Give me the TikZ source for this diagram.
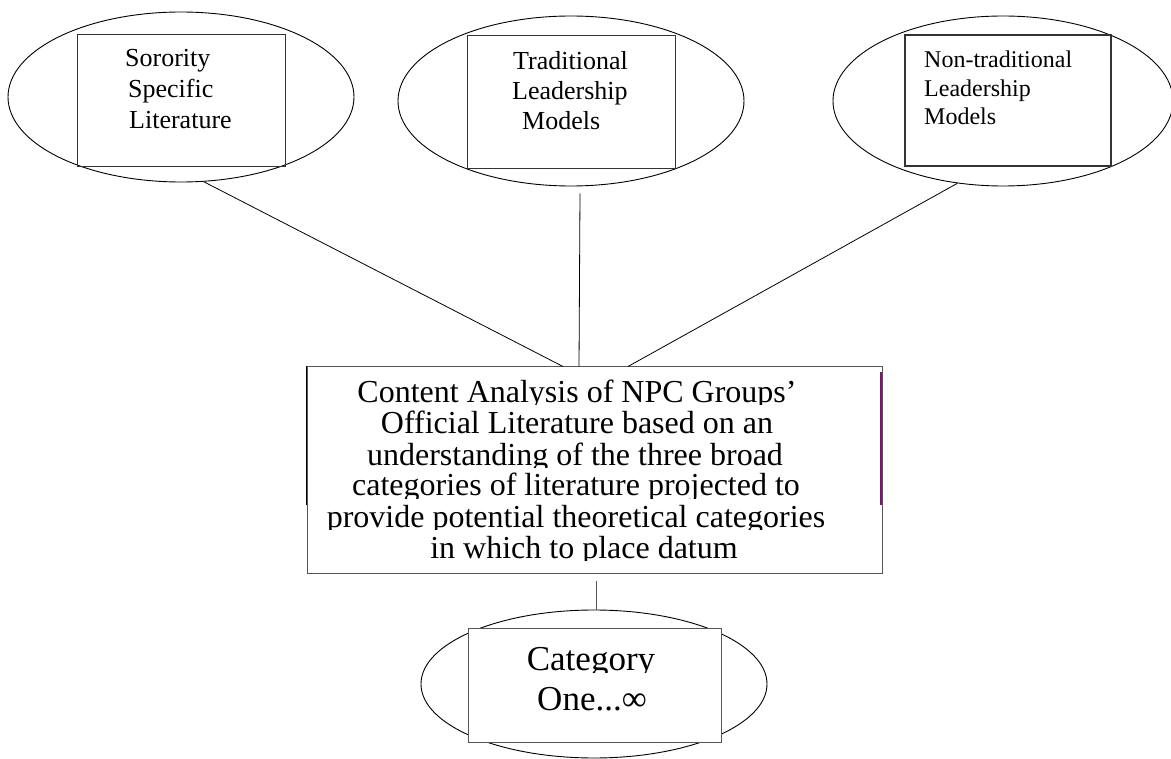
\documentclass[tikz,border=0pt]{standalone}
\usepackage{fontspec}
\setmainfont{Liberation Serif}
\usetikzlibrary{calc,shapes.geometric}
\definecolor{boxgray}{RGB}{85,85,85}
\definecolor{edgepurple}{RGB}{125,20,120}
\tikzset{
  oval/.style={draw=black, line width=0.9pt, ellipse, inner sep=0pt},
  srcbox/.style={draw=black!80, line width=1pt},
  uptext/.style={anchor=base west, inner sep=0pt, font=\fontsize{26}{30}\selectfont},
  rtext/.style={anchor=base west, inner sep=0pt, font=\fontsize{24}{28}\selectfont},
  maintext/.style={anchor=base, inner sep=0pt, font=\fontsize{32}{36}\selectfont},
  cattext/.style={anchor=base, inner sep=0pt, font=\fontsize{35}{40}\selectfont},
  link/.style={draw=black, line width=0.8pt},
}
\begin{document}
\begin{tikzpicture}[x=1pt,y=-1pt]
\useasboundingbox (0,0) rectangle (1171,759);
\fill[white] (0,0) rectangle (1171,759);

% top ellipses
\node[oval, minimum width=346pt, minimum height=170pt] (e1) at (181,97) {};
\node[oval, minimum width=346pt, minimum height=170pt] (e2) at (571,101) {};
\node[oval, minimum width=340pt, minimum height=170pt] (e3) at (1003,101) {};

% boxes inside ellipses
\draw[srcbox] (77,35) rectangle (285,167);
\draw[srcbox] (467,36) rectangle (675,169);
\draw[srcbox, line width=1.5pt] (905,35) rectangle (1111,166);

% texts
\node[uptext] (a1) at (125,67) {Sorority};
\node[uptext] (a2) at (128,98) {Specific};
\node[uptext] (a3) at (129,129) {Literature};
\node[uptext] (b1) at (513,70) {Traditional};
\node[uptext] (b2) at (512,100) {Leadership};
\node[uptext] (b3) at (522,130) {Models};
\node[rtext] (c1) at (924,68) {Non-traditional};
\node[rtext] (c2) at (924,97) {Leadership};
\node[rtext] (c3) at (924,125) {Models};

% main box
\node[draw=boxgray, line width=1pt, minimum width=575pt, minimum height=206pt, inner sep=0pt] (main) at (594.5,470) {};
\draw[black, line width=1pt] (main.north west) -- ($(main.north west)+(0,138)$);
\draw[edgepurple, line width=2pt] ($(main.north east)+(-2,6)$) -- ($(main.north east)+(-2,138)$);

\begin{scope}\clip (300,371) rectangle (890,405);
\node[maintext] (m1) at (577,403) {Content Analysis of NPC Groups’};\end{scope}
\begin{scope}\clip (300,400) rectangle (890,436);
\node[maintext] (m2) at (577,434) {Official Literature based on an};\end{scope}
\begin{scope}\clip (300,431) rectangle (890,467);
\node[maintext] (m3) at (575,465) {understanding of the three broad};\end{scope}
\begin{scope}\clip (300,462) rectangle (890,498);
\node[maintext] (m4) at (576,496) {categories of literature projected to};\end{scope}
\begin{scope}\clip (300,493) rectangle (890,529);
\node[maintext] (m5) at (576,527) {provide potential theoretical categories};\end{scope}
\begin{scope}\clip (300,524) rectangle (890,560);
\node[maintext] (m6) at (584,558) {in which to place datum};\end{scope}

% bottom ellipse and box
\node[oval, minimum width=346pt, minimum height=148pt] (e4) at (594,684) {};
\draw[draw=boxgray, fill=white, line width=1pt] (468,628) rectangle (721,742);
\begin{scope}\clip (470,630) rectangle (719,672);
\node[cattext] (k1) at (591,670) {Category};\end{scope}
\node[cattext] (k2) at (592,710) {One...∞};

% connectors
\draw[link] (e1.-75) -- ($(main.north)+(-31.5,0)$);
\draw[link] ($(e2.south)+(9,7)$) -- ($(main.north)+(-15.5,0)$);
\draw[link] (e3.-119) -- ($(main.north)+(33.5,0)$);
\draw[draw=boxgray, line width=1pt] ($(main.south)+(1.5,7)$) -- ($(e4.north)+(2,0)$);
\end{tikzpicture}
\end{document}
